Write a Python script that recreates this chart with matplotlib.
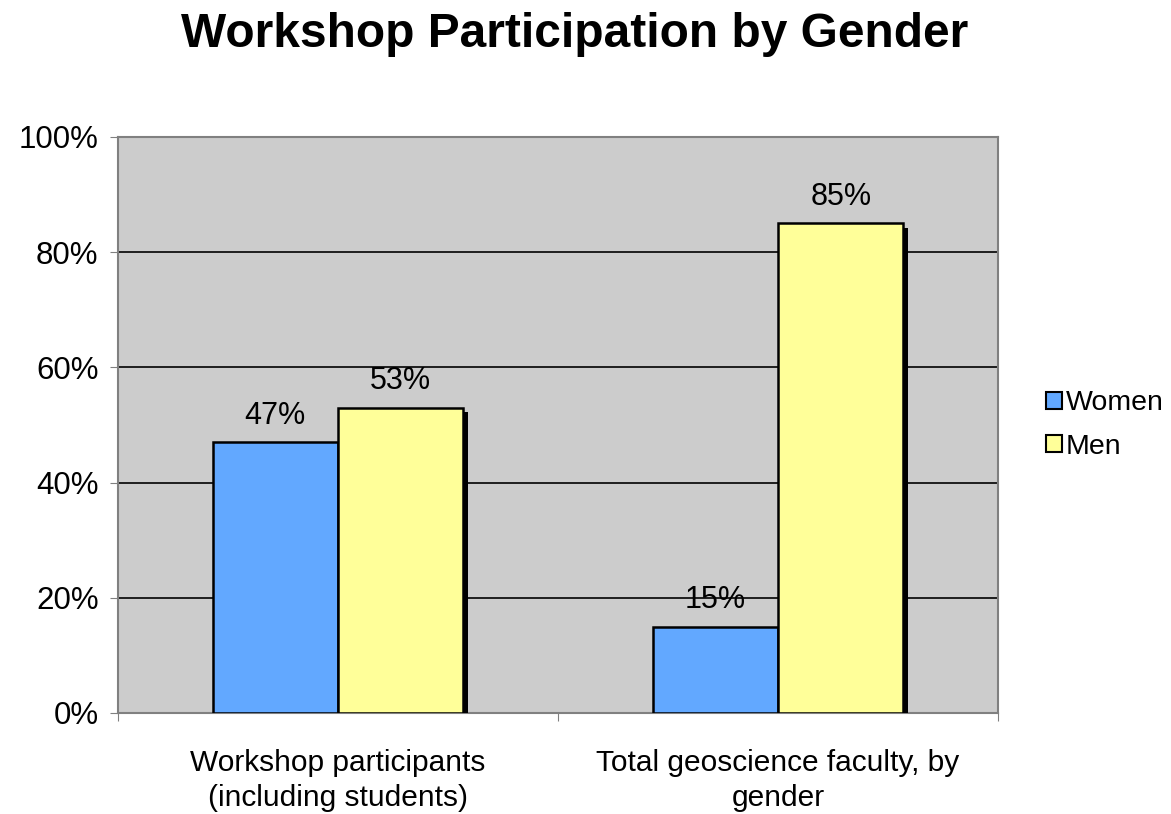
import matplotlib.pyplot as plt
import matplotlib.patheffects as pe
import numpy as np

categories = ["Workshop participants\n(including students)", "Total geoscience faculty, by\ngender"]
series = ["Women", "Men"]
women = [47, 15]
men = [53, 85]
colors = ["#62a8ff", "#ffff99"]

plt.rcParams['font.family'] = ['Liberation Sans', 'DejaVu Sans']

fig = plt.figure(figsize=(11.71, 8.14), dpi=100)
ax = fig.add_axes([0.1008, 0.1241, 0.7515, 0.7076])
ax.set_facecolor("#cccccc")

x = np.arange(len(categories))
w = 0.285
shadow = [pe.SimplePatchShadow(offset=(3, -3), shadow_rgbFace="black", alpha=1.0), pe.Normal()]
for i, (vals, col) in enumerate(zip([women, men], colors)):
    bars = ax.bar(x + (i - 0.5) * w, vals, w, color=col, edgecolor="black",
                  linewidth=1.8, label=series[i], zorder=3)
    for b in bars:
        b.set_path_effects(shadow)
    for xi, v in zip(x + (i - 0.5) * w, vals):
        ax.text(xi, v + 2.0, f"{v}%", ha="center", va="bottom", fontsize=22, zorder=4)

ax.set_xlim(-0.5, 1.5)
ax.set_ylim(0, 100)
ax.set_yticks(range(0, 101, 20))
ax.set_yticklabels([f"{t}%" for t in range(0, 101, 20)], fontsize=22.5)
ax.yaxis.grid(True, color="black", linewidth=1.2, zorder=0)
ax.set_axisbelow(True)

ax.set_xticks([-0.5, 0.5, 1.5])
ax.set_xticklabels([])
ax.set_xticks(x, minor=True)
ax.set_xticklabels(categories, minor=True, fontsize=21.5, linespacing=1.3)
ax.tick_params(axis="x", which="minor", length=0, pad=26)
ax.tick_params(axis="x", which="major", length=6, color="#808080")
ax.tick_params(axis="y", length=6, color="#808080", pad=8)

for s in ax.spines.values():
    s.set_color("#808080")
    s.set_linewidth(1.5)

leg = ax.legend(loc="center left", bbox_to_anchor=(1.0545, 0.5), frameon=False, fontsize=20.5,
                handlelength=0.55, handleheight=0.55, handletextpad=0.15, labelspacing=0.6,
                borderpad=0, borderaxespad=0)
for h in leg.legend_handles:
    h.set_path_effects([])
    h.set_linewidth(1.5)

fig.text(0.491, 0.958, "Workshop Participation by Gender", ha="center", va="center",
         fontsize=34.5, fontweight="bold")

fig.savefig("out.png", dpi=100)
